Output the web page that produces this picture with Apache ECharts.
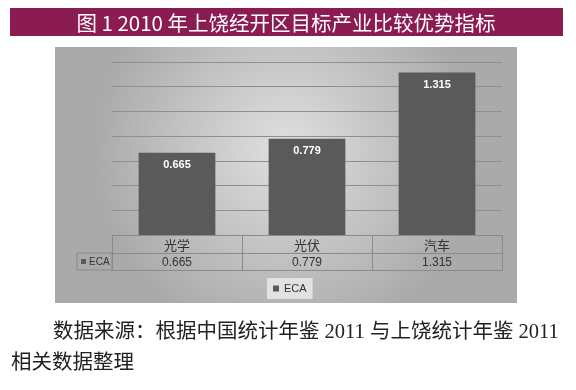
<!DOCTYPE html>
<html><head><meta charset="utf-8">
<script src="https://cdn.jsdelivr.net/npm/echarts@6/dist/echarts.min.js"></script>
<style>html,body{margin:0;padding:0;background:#fff}#c{width:576px;height:390px}</style>
</head><body><div id="c"></div>
<script>
const categories = ['光学', '光伏', '汽车'];
const ecaValues = [0.665, 0.779, 1.315];
const seriesName = 'ECA';
const titleText = '图 1 2010 年上饶经开区目标产业比较优势指标';
const sourceLine1 = '数据来源：根据中国统计年鉴 2011 与上饶统计年鉴 2011';
const sourceLine2 = '相关数据整理';

const chart = echarts.init(document.getElementById('c'));
const cjk = '"Noto Sans CJK SC", "Noto Sans", sans-serif';
const serif = '"Liberation Serif", "Noto Sans CJK SC", serif';
const tableLine = '#8a8a8a';

chart.setOption({
  animation: false,
  backgroundColor: '#ffffff',
  graphic: [
    { type: 'rect', shape: { x: 10, y: 8, width: 553, height: 28 }, style: { fill: '#8a1c52' }, z: 0 },
    { type: 'text', x: 286, y: 23, style: { text: titleText, fill: '#ffffff', font: '20.5px ' + cjk, textAlign: 'center', textVerticalAlign: 'middle' }, z: 1 },
    { type: 'rect', shape: { x: 55, y: 47, width: 462, height: 256 }, z: -10,
      style: { fill: { type: 'radial', x: 0.5, y: 0.4, r: 0.75, colorStops: [{ offset: 0, color: '#e0e0e0' }, { offset: 1, color: '#aaaaaa' }] } } },
    { type: 'rect', shape: { x: 77, y: 253, width: 35, height: 17 }, style: { fill: 'rgba(0,0,0,0)', stroke: tableLine, lineWidth: 1 }, z: 5 },
    { type: 'rect', shape: { x: 81, y: 259, width: 5, height: 5 }, style: { fill: '#595959' }, z: 5 },
    { type: 'text', x: 89, y: 262, style: { text: seriesName, fill: '#333', font: '10px "Liberation Sans", sans-serif', textVerticalAlign: 'middle' }, z: 5 },
    { type: 'text', x: 53, y: 333, style: { text: sourceLine1, fill: '#222', font: '20.5px ' + serif, textVerticalAlign: 'middle' } },
    { type: 'text', x: 11, y: 364, style: { text: sourceLine2, fill: '#222', font: '20.5px ' + serif, textVerticalAlign: 'middle' } }
  ],
  legend: {
    data: [seriesName], left: 267, top: 278, icon: 'rect', itemWidth: 6, itemHeight: 6, itemGap: 4,
    backgroundColor: '#e2e2e2', padding: [5, 6, 5, 6],
    textStyle: { fontSize: 11, color: '#333', fontFamily: '"Liberation Sans", sans-serif' }
  },
  grid: { left: 112, right: 74, top: 62, bottom: 155, containLabel: false },
  xAxis: [
    { type: 'category', data: categories, position: 'bottom',
      axisLine: { show: true, lineStyle: { color: tableLine, width: 1 } },
      axisTick: { show: true, alignWithLabel: false, length: 35, lineStyle: { color: tableLine } },
      axisLabel: { margin: 4, fontSize: 13, color: '#333', fontFamily: cjk } },
    { type: 'category', data: ecaValues.map(v => v.toFixed(3)), position: 'bottom', offset: 18,
      axisLine: { show: true, lineStyle: { color: tableLine, width: 1 } },
      axisTick: { show: false },
      axisLabel: { margin: 4, fontSize: 12, color: '#333', fontFamily: '"Liberation Sans", sans-serif' } },
    { type: 'category', data: categories, position: 'bottom', offset: 35,
      axisLine: { show: true, lineStyle: { color: tableLine, width: 1 } },
      axisTick: { show: false }, axisLabel: { show: false } }
  ],
  yAxis: {
    type: 'value', min: 0, max: 1.4, interval: 0.2,
    axisLine: { show: false }, axisTick: { show: false }, axisLabel: { show: false },
    splitLine: { show: true, lineStyle: { color: '#8f8f8f', width: 1 } }
  },
  series: [{
    name: seriesName, type: 'bar', xAxisIndex: 0, data: ecaValues, barWidth: '59%',
    itemStyle: { color: '#5a5a5a' },
    label: { show: true, position: 'insideTop', distance: 7, color: '#ffffff', fontWeight: 'bold', fontSize: 11,
      fontFamily: '"Liberation Sans", sans-serif', formatter: p => p.value.toFixed(3) }
  }]
});
</script></body></html>
